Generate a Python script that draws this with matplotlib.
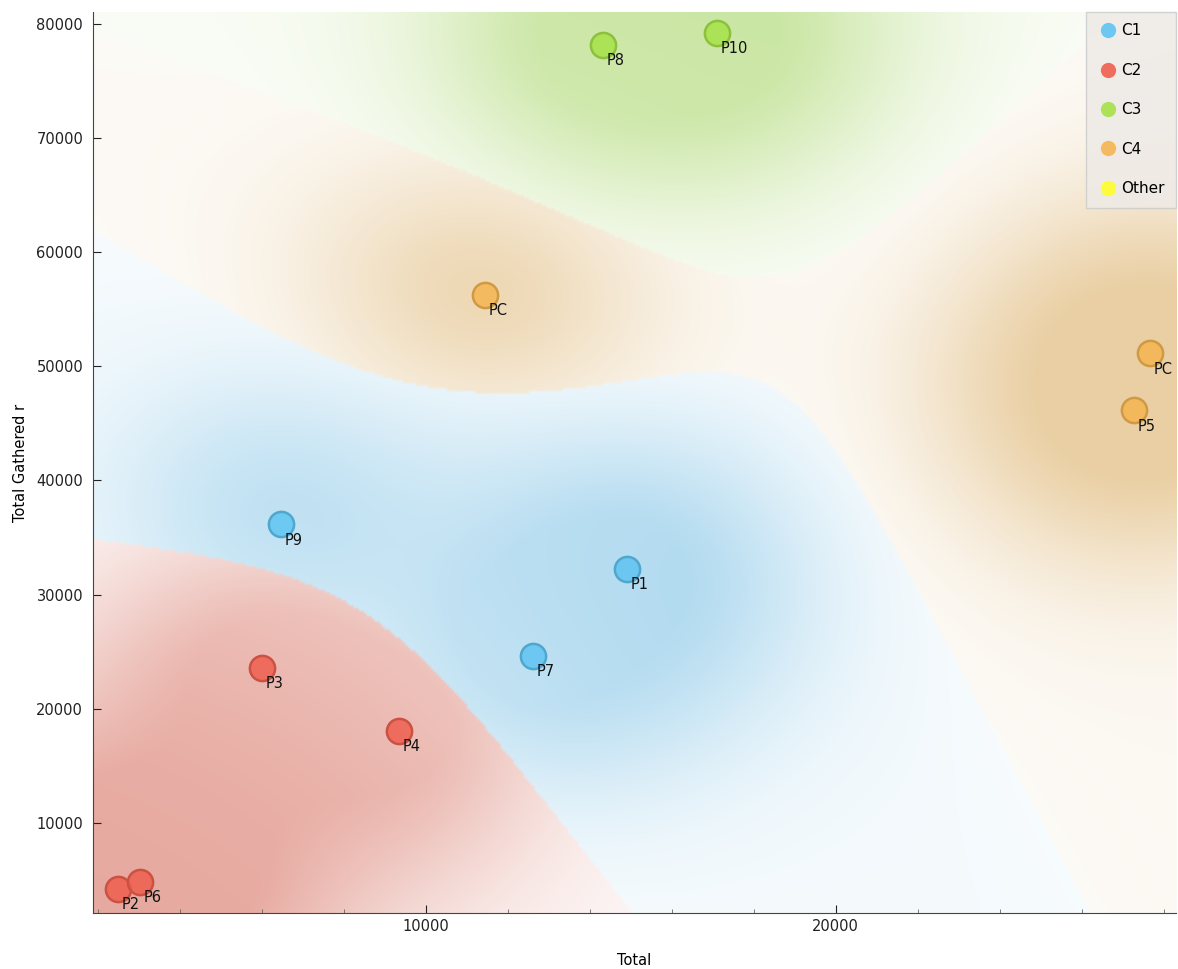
import matplotlib
matplotlib.use('Agg')
import matplotlib.pyplot as plt
import matplotlib.colors as mcolors
import numpy as np

# data
labels = ['P1', 'P2', 'P3', 'P4', 'P5', 'P6', 'P7', 'P8', 'P9', 'P10', 'PC', 'PC']
total = [14900, 2490, 6000, 9340, 27270, 3020, 12610, 14320, 6460, 17100, 11440, 27660]
gathered = [32230, 4240, 23570, 18060, 46140, 4850, 24620, 78160, 36170, 79210, 56290, 51130]
classes = ['C1', 'C2', 'C2', 'C2', 'C4', 'C2', 'C1', 'C3', 'C1', 'C3', 'C4', 'C4']

class_names = ['C1', 'C2', 'C3', 'C4', 'Other']
class_colors = {'C1': '#5ec4f2', 'C2': '#ef5f4f', 'C3': '#a6e248',
                'C4': '#f5b550', 'Other': '#ffff2a'}
# muted tones used for the density background
bg_colors = {'C1': '#7ec2e6', 'C2': '#d9796a', 'C3': '#acd870', 'C4': '#deb470'}

XLIM = (1880, 28300)
YLIM = (2100, 81050)

x = np.array(total, dtype=float)
y = np.array(gathered, dtype=float)
cls = np.array(classes)

fig = plt.figure(figsize=(11.78, 9.69), dpi=100)
ax = fig.add_axes([0.0789, 0.0578, 0.9194, 0.9298])

# class density background (gaussian kernel class probabilities)
nx, ny = 420, 340
gx = np.linspace(0, 1, nx)
gy = np.linspace(0, 1, ny)
GX, GY = np.meshgrid(gx, gy)
px = (x - XLIM[0]) / (XLIM[1] - XLIM[0])
py = (y - YLIM[0]) / (YLIM[1] - YLIM[0])
used = ['C1', 'C2', 'C3', 'C4']
sig = 0.155
sig_d = 0.12
W = np.zeros((len(used), ny, nx))
D = np.ones((len(used), ny, nx))
for k, c in enumerate(used):
    for i in np.where(cls == c)[0]:
        d2 = (GX - px[i]) ** 2 + (GY - py[i]) ** 2
        W[k] += np.exp(-d2 / (2 * sig ** 2))
        D[k] *= 1 - 0.8 * np.exp(-d2 / (2 * sig_d ** 2))
D = (1 - D) / 0.8
P = W / W.sum(axis=0)
win = P.argmax(axis=0)
pmax = P.max(axis=0)
dens = np.clip(np.take_along_axis(D, win[None], axis=0)[0], 0, 1)
sharp = np.clip((pmax - 0.25) / 0.75, 0, 1)
alpha = 0.64 * (0.14 + 0.86 * dens) * (0.55 + 0.45 * sharp)

rgb = np.array([mcolors.to_rgb(bg_colors[c]) for c in used])
col = rgb[win]
img = (1 - alpha[..., None]) * np.ones((ny, nx, 3)) + alpha[..., None] * col
ax.imshow(img, origin='lower', extent=(XLIM[0], XLIM[1], YLIM[0], YLIM[1]),
          aspect='auto', interpolation='bilinear', zorder=0)

# points
for c in used:
    m = cls == c
    fc = mcolors.to_rgba(class_colors[c], 0.85)
    ec = tuple(v * 0.85 for v in mcolors.to_rgb(class_colors[c]))
    ax.scatter(x[m], y[m], s=330, facecolor=fc, edgecolor=ec, linewidth=1.8, zorder=3)

for lab, xi, yi in zip(labels, x, y):
    ax.annotate(lab, (xi, yi), xytext=(3, -6), textcoords='offset points',
                ha='left', va='top', fontsize=10.5, color='#111111', zorder=4)

ax.set_xlim(XLIM)
ax.set_ylim(YLIM)
ax.set_xticks([10000, 20000])
ax.set_xticks(np.arange(2000, 28001, 2000), minor=True)
ax.set_yticks(np.arange(10000, 80001, 10000))
ax.tick_params(axis='both', direction='in', labelsize=10.5, colors='#222222', length=6)
ax.tick_params(axis='both', which='minor', direction='in', length=3, color='#666666')
ax.tick_params(axis='x', pad=4)
ax.tick_params(axis='y', pad=7)
for s in ['top', 'right']:
    ax.spines[s].set_visible(False)
for s in ['left', 'bottom']:
    ax.spines[s].set_color('#444444')
ax.set_xlabel('Total', fontsize=10.5, labelpad=14)
ax.set_ylabel('Total Gathered r', fontsize=10.5, labelpad=6)

# legend
handles = [plt.Line2D([], [], marker='o', linestyle='none', markersize=11,
                      markerfacecolor=class_colors[c], markeredgecolor='none', alpha=0.9)
           for c in class_names]
leg = ax.legend(handles, class_names, loc='upper right', fontsize=11,
                labelspacing=1.6, handletextpad=0.15, handlelength=1.4,
                borderpad=0.75, borderaxespad=0.0, fancybox=False, framealpha=0.85)
leg.get_frame().set_facecolor('#eeeae6')
leg.get_frame().set_edgecolor('#cccccc')

fig.savefig('out.png', dpi=100)
